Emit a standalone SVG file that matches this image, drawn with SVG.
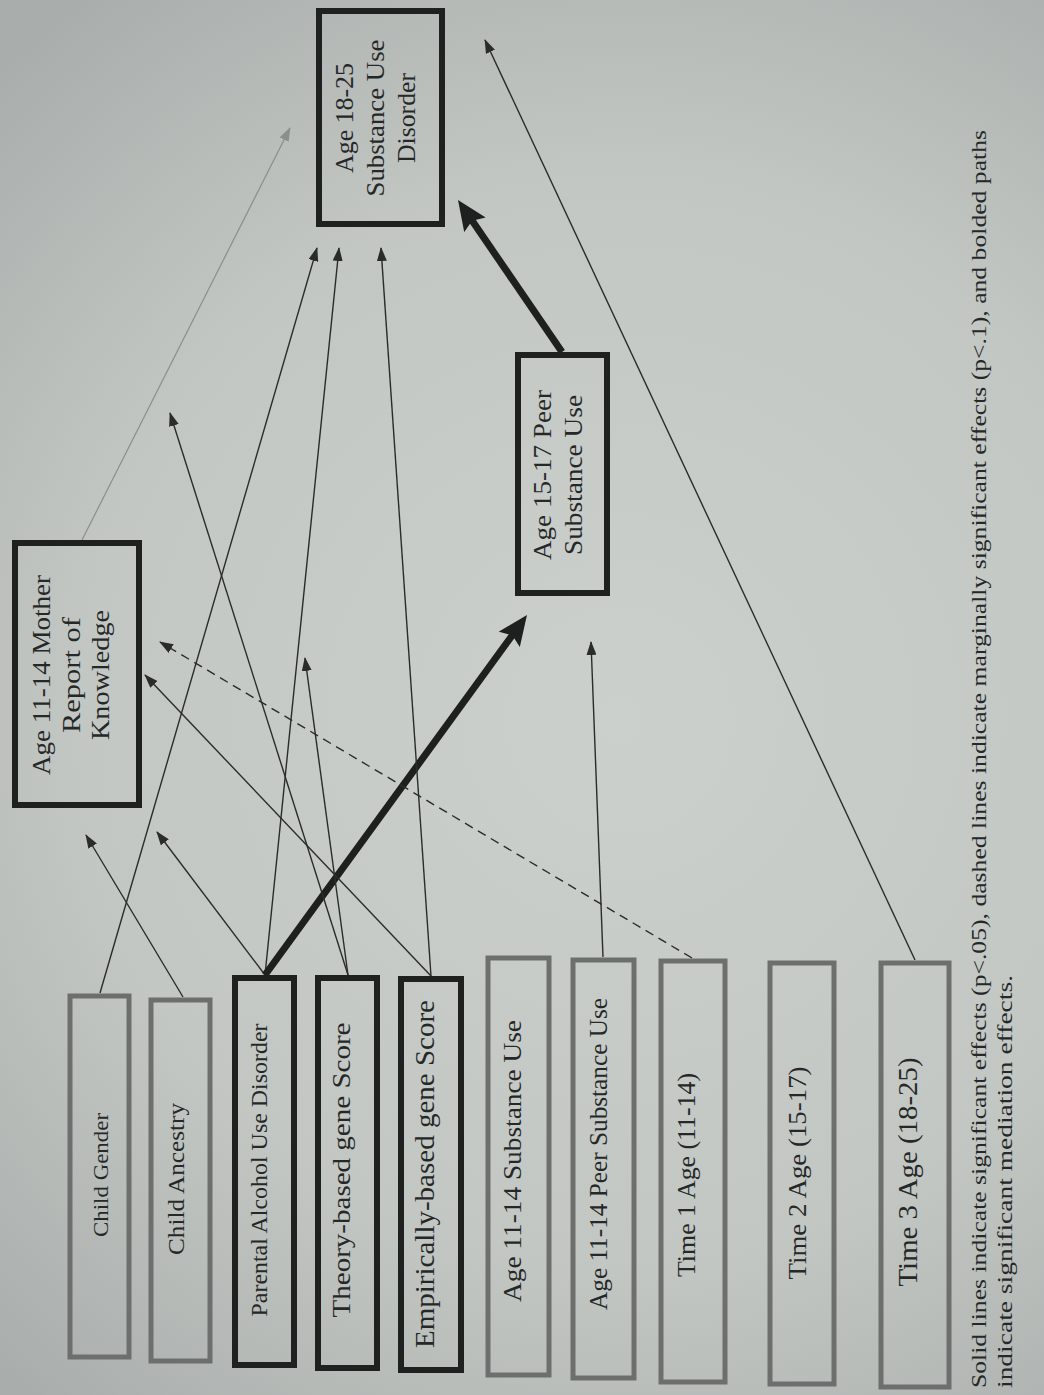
<svg xmlns="http://www.w3.org/2000/svg" width="1044" height="1395" viewBox="0 0 1044 1395">
<defs>
<radialGradient id="bg" cx="620" cy="720" r="900" gradientUnits="userSpaceOnUse">
<stop offset="0" stop-color="#cbd0cd"/>
<stop offset="0.6" stop-color="#c2c7c4"/>
<stop offset="1" stop-color="#a9adab"/>
</radialGradient>
<marker id="ah" markerUnits="userSpaceOnUse" markerWidth="14" markerHeight="10" refX="13" refY="5" orient="auto">
<path d="M0,0 L14,5 L0,10 z" fill="#2a2c2b"/>
</marker>
<marker id="ahg" markerUnits="userSpaceOnUse" markerWidth="14" markerHeight="10" refX="13" refY="5" orient="auto">
<path d="M0,0 L14,5 L0,10 z" fill="#8a8e8c"/>
</marker>
<marker id="ahb" markerUnits="userSpaceOnUse" markerWidth="32" markerHeight="26" refX="10" refY="13" orient="auto">
<path d="M0,0 L30,13 L0,26 L5,13 z" fill="#1e201f"/>
</marker>
</defs>
<style>
.dark{fill:none;stroke:#1f2120;stroke-width:6}
.grey{fill:none;stroke:#6c6f6e;stroke-width:5}
.t{font-family:"Liberation Serif","Times New Roman",serif;fill:#262827;text-anchor:middle}
.c{fill:none;stroke:#2a2c2b;stroke-width:1.4}
.cg{fill:none;stroke:#8a8e8c;stroke-width:1.2}
.cb{fill:none;stroke:#1e201f;stroke-width:7}
.cd{fill:none;stroke:#2a2c2b;stroke-width:1.4;stroke-dasharray:9 6}
.fn{font-family:"Liberation Serif","Times New Roman",serif;fill:#262827;font-size:22px}
</style>
<rect x="0" y="0" width="1044" height="1395" fill="url(#bg)"/>

<g id="connectors">
<line class="c" x1="100" y1="993" x2="317" y2="248" marker-end="url(#ah)"/>
<line class="c" x1="183" y1="997" x2="86" y2="835" marker-end="url(#ah)"/>
<line class="c" x1="265" y1="975" x2="157" y2="832" marker-end="url(#ah)"/>
<line class="c" x1="265" y1="975" x2="339" y2="248" marker-end="url(#ah)"/>
<line class="cb" x1="265" y1="975" x2="515.2" y2="631.2" marker-end="url(#ahb)"/>
<line class="c" x1="348" y1="975" x2="170" y2="413" marker-end="url(#ah)"/>
<line class="c" x1="348" y1="975" x2="305" y2="658" marker-end="url(#ah)"/>
<line class="c" x1="431" y1="976" x2="145" y2="675" marker-end="url(#ah)"/>
<line class="c" x1="431" y1="976" x2="381" y2="248" marker-end="url(#ah)"/>
<line class="c" x1="603" y1="957" x2="591" y2="642" marker-end="url(#ah)"/>
<line class="cd" x1="692" y1="958" x2="160" y2="642" marker-end="url(#ah)"/>
<line class="c" x1="915" y1="960" x2="485" y2="40" marker-end="url(#ah)"/>
<line class="cg" x1="82" y1="540" x2="290" y2="128" marker-end="url(#ahg)"/>
<line class="cb" x1="562" y1="352" x2="469.3" y2="216.5" marker-end="url(#ahb)"/>
</g>

<g id="sud">
<rect class="dark" x="319" y="11" width="123" height="213"/>
<g transform="translate(380,118) rotate(-90)">
<text class="t" x="0" y="-27" font-size="26" textLength="110" lengthAdjust="spacingAndGlyphs">Age 18-25</text>
<text class="t" x="0" y="4" font-size="26" textLength="157" lengthAdjust="spacingAndGlyphs">Substance Use</text>
<text class="t" x="0" y="35" font-size="26" textLength="90" lengthAdjust="spacingAndGlyphs">Disorder</text>
</g>
</g>

<g id="mother">
<rect class="dark" x="15" y="543" width="124" height="262"/>
<g transform="translate(78,675) rotate(-90)">
<text class="t" x="0" y="-28" font-size="26" textLength="200" lengthAdjust="spacingAndGlyphs">Age 11-14 Mother</text>
<text class="t" x="0" y="2" font-size="26" textLength="116" lengthAdjust="spacingAndGlyphs">Report of</text>
<text class="t" x="0" y="31" font-size="26" textLength="130" lengthAdjust="spacingAndGlyphs">Knowledge</text>
</g>
</g>

<g id="peer1517">
<rect class="dark" x="518" y="355" width="89" height="238"/>
<g transform="translate(562,475) rotate(-90)">
<text class="t" x="0" y="-11" font-size="26" textLength="170" lengthAdjust="spacingAndGlyphs">Age 15-17 Peer</text>
<text class="t" x="0" y="20" font-size="26" textLength="160" lengthAdjust="spacingAndGlyphs">Substance Use</text>
</g>
</g>

<g id="gender">
<rect class="grey" x="70" y="996" width="59" height="361"/>
<text class="t" transform="translate(108,1175) rotate(-90)" font-size="22" textLength="124" lengthAdjust="spacingAndGlyphs">Child Gender</text>
</g>
<g id="ancestry">
<rect class="grey" x="151" y="1000" width="59" height="361"/>
<text class="t" transform="translate(184,1179) rotate(-90)" font-size="24" textLength="152" lengthAdjust="spacingAndGlyphs">Child Ancestry</text>
</g>
<g id="parental">
<rect class="dark" x="235" y="978" width="59" height="387"/>
<text class="t" transform="translate(267,1170) rotate(-90)" font-size="23" textLength="293" lengthAdjust="spacingAndGlyphs">Parental Alcohol Use Disorder</text>
</g>
<g id="theory">
<rect class="dark" x="318" y="978" width="59" height="390"/>
<text class="t" transform="translate(350,1170) rotate(-90)" font-size="26" textLength="295" lengthAdjust="spacingAndGlyphs">Theory-based gene Score</text>
</g>
<g id="empirical">
<rect class="dark" x="401" y="979" width="60" height="391"/>
<text class="t" transform="translate(434,1174) rotate(-90)" font-size="27" textLength="348" lengthAdjust="spacingAndGlyphs">Empirically-based gene Score</text>
</g>
<g id="su1114">
<rect class="grey" x="488" y="958" width="61" height="417"/>
<text class="t" transform="translate(521,1161) rotate(-90)" font-size="25" textLength="282" lengthAdjust="spacingAndGlyphs">Age 11-14 Substance Use</text>
</g>
<g id="peer1114">
<rect class="grey" x="573" y="960" width="61" height="418"/>
<text class="t" transform="translate(607,1154) rotate(-90)" font-size="25" textLength="312" lengthAdjust="spacingAndGlyphs">Age 11-14 Peer Substance Use</text>
</g>
<g id="time1">
<rect class="grey" x="661" y="961" width="64" height="421"/>
<text class="t" transform="translate(695,1175) rotate(-90)" font-size="25" textLength="204" lengthAdjust="spacingAndGlyphs">Time 1 Age (11-14)</text>
</g>
<g id="time2">
<rect class="grey" x="770" y="963" width="64" height="421"/>
<text class="t" transform="translate(806,1173) rotate(-90)" font-size="26" textLength="213" lengthAdjust="spacingAndGlyphs">Time 2 Age (15-17)</text>
</g>
<g id="time3">
<rect class="grey" x="881" y="963" width="68" height="424"/>
<text class="t" transform="translate(917,1172) rotate(-90)" font-size="27" textLength="229" lengthAdjust="spacingAndGlyphs">Time 3 Age (18-25)</text>
</g>

<g id="footnote">
<text class="fn" transform="translate(986,1388) rotate(-90)" textLength="1258" lengthAdjust="spacingAndGlyphs">Solid lines indicate significant effects (p&lt;.05), dashed lines indicate marginally significant effects (p&lt;.1), and bolded paths</text>
<text class="fn" transform="translate(1012,1388) rotate(-90)" textLength="413" lengthAdjust="spacingAndGlyphs">indicate significant mediation effects.</text>
</g>
</svg>
